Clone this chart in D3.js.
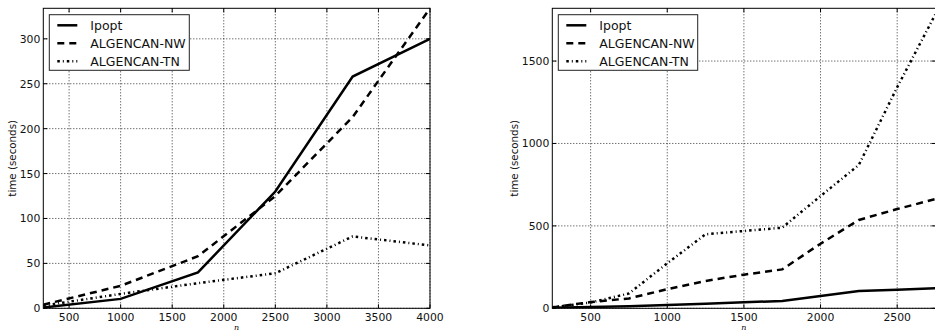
<!DOCTYPE html>
<html>
<head>
<meta charset="utf-8">
<script src="https://cdn.jsdelivr.net/npm/d3@7"></script>
<style>
  body { margin: 0; background: #fff; }
  svg { display: block; font-family: "DejaVu Sans", sans-serif; }
</style>
</head>
<body>
<svg id="chart" width="935" height="332"></svg>
<script>
// left panel (n step 750)
var leftN      = [250, 1000, 1750, 2500, 3250, 4000];
var leftIpopt  = [1, 10.5, 40, 130, 258, 300];
var leftNW     = [4, 25, 58, 125, 213, 334];
var leftTN     = [3, 16, 28, 39, 80, 70];
var leftXTicks = [500, 1000, 1500, 2000, 2500, 3000, 3500, 4000];
var leftYTicks = [0, 50, 100, 150, 200, 250, 300];

// right panel (n step 250)
var rightN      = [250, 500, 750, 1000, 1250, 1500, 1750, 2000, 2250, 2500, 2750];
var rightIpopt  = [3, 8, 12, 20, 28, 36, 45, 75, 105, 112, 122];
var rightNW     = [5, 38, 60, 116, 166, 204, 236, 392, 536, 602, 663];
var rightTN     = [6, 35, 90, 273, 449, 469, 489, 681, 870, 1341, 1785];
var rightXTicks = [500, 1000, 1500, 2000, 2500];
var rightYTicks = [0, 500, 1000, 1500];

var seriesNames = ['Ipopt', 'ALGENCAN-NW', 'ALGENCAN-TN'];
var dashes = [null, '7,5', '2.5,3,1,3'];

var svg = d3.select('#chart');

function drawPanel(opt){
  var g = svg.append('g');
  var x = d3.scaleLinear().domain(opt.xDomain).range([opt.left, opt.right]);
  var y = d3.scaleLinear().domain(opt.yDomain).range([opt.bottom, opt.top]);

  // grid
  g.selectAll('.vgrid').data(opt.xTicks).enter()
    .append('line')
    .attr('x1', d=>x(d)).attr('x2', d=>x(d))
    .attr('y1', opt.top).attr('y2', opt.bottom)
    .attr('stroke', '#000').attr('stroke-width', 0.8)
    .attr('stroke-dasharray', '1,2');
  g.selectAll('.hgrid').data(opt.yTicks).enter()
    .append('line')
    .attr('y1', d=>y(d)).attr('y2', d=>y(d))
    .attr('x1', opt.left).attr('x2', opt.right)
    .attr('stroke', '#000').attr('stroke-width', 0.8)
    .attr('stroke-dasharray', '1,2');

  // lines
  var clipId = 'clip' + opt.id;
  g.append('clipPath').attr('id', clipId)
    .append('rect')
    .attr('x', opt.left).attr('y', opt.top - 2)
    .attr('width', opt.right - opt.left).attr('height', opt.bottom - opt.top + 2);

  var line = d3.line()
    .x(function(d, i){ return x(opt.n[i]); })
    .y(function(d){ return y(d); });

  opt.series.forEach(function(s, i){
    g.append('path')
      .attr('d', line(s))
      .attr('clip-path', 'url(#' + clipId + ')')
      .attr('fill', 'none')
      .attr('stroke', '#000')
      .attr('stroke-width', 2.5)
      .attr('stroke-dasharray', dashes[i]);
  });

  // ticks inside on all sides
  opt.xTicks.forEach(function(t){
    g.append('line').attr('x1', x(t)).attr('x2', x(t))
      .attr('y1', opt.bottom).attr('y2', opt.bottom - 4).attr('stroke', '#000');
    g.append('line').attr('x1', x(t)).attr('x2', x(t))
      .attr('y1', opt.top).attr('y2', opt.top + 4).attr('stroke', '#000');
  });
  opt.yTicks.forEach(function(t){
    g.append('line').attr('x1', opt.left).attr('x2', opt.left + 4)
      .attr('y1', y(t)).attr('y2', y(t)).attr('stroke', '#000');
    g.append('line').attr('x1', opt.right).attr('x2', opt.right - 4)
      .attr('y1', y(t)).attr('y2', y(t)).attr('stroke', '#000');
  });

  // spines
  g.append('rect')
    .attr('x', opt.left).attr('y', opt.top)
    .attr('width', opt.right - opt.left).attr('height', opt.bottom - opt.top)
    .attr('fill', 'none').attr('stroke', '#000').attr('stroke-width', 1);

  // tick labels
  g.selectAll('.xlab').data(opt.xTicks).enter()
    .append('text')
    .attr('x', d=>x(d)).attr('y', opt.bottom + 12.5)
    .attr('text-anchor', 'middle')
    .attr('font-size', '10.8px')
    .attr('fill', '#111')
    .text(d=>d);
  g.selectAll('.ylab').data(opt.yTicks).enter()
    .append('text')
    .attr('x', opt.left - 3).attr('y', d=>y(d) + 4)
    .attr('text-anchor', 'end')
    .attr('font-size', '10.8px')
    .attr('fill', '#111')
    .text(d=>d);

  // axis titles
  g.append('text')
    .attr('x', (opt.left + opt.right) / 2).attr('y', 329.5)
    .attr('text-anchor', 'middle')
    .attr('font-family', '"DejaVu Serif", serif')
    .attr('font-style', 'italic')
    .attr('font-size', '8px')
    .text('n');
  g.append('text')
    .attr('transform', 'translate(' + opt.ylabX + ',' + ((opt.top + opt.bottom) / 2) + ') rotate(-90)')
    .attr('text-anchor', 'middle')
    .attr('font-size', '10.3px')
    .attr('fill', '#111')
    .text('time (seconds)');

  // legend
  var lx = opt.left + 6, ly = opt.top + 6.4;
  var leg = g.append('g');
  leg.append('rect')
    .attr('x', lx).attr('y', ly).attr('width', opt.legendW).attr('height', 55.6)
    .attr('fill', '#fff').attr('stroke', '#222').attr('stroke-width', 1);
  seriesNames.forEach(function(name, i){
    var ry = ly + 10.6 + i * 18;
    leg.append('line')
      .attr('x1', lx + 8).attr('x2', lx + 28)
      .attr('y1', ry).attr('y2', ry)
      .attr('stroke', '#000').attr('stroke-width', 2.5)
      .attr('stroke-dasharray', dashes[i]);
    leg.append('text')
      .attr('x', lx + 41).attr('y', ry + 4.5)
      .attr('font-size', '12.5px')
      .attr('fill', '#111')
      .text(name);
  });
}

drawPanel({
  id: 'L', left: 43.3, right: 430, top: 8.3, bottom: 308.3,
  xDomain: [250, 4000], yDomain: [0, 334],
  n: leftN, series: [leftIpopt, leftNW, leftTN],
  xTicks: leftXTicks, yTicks: leftYTicks,
  ylabX: 16, legendW: 140
});

drawPanel({
  id: 'R', left: 552.3, right: 935.5, top: 8.3, bottom: 308.3,
  xDomain: [250, 2750], yDomain: [0, 1820],
  n: rightN, series: [rightIpopt, rightNW, rightTN],
  xTicks: rightXTicks, yTicks: rightYTicks,
  ylabX: 518, legendW: 139.4
});
</script>
</body>
</html>
